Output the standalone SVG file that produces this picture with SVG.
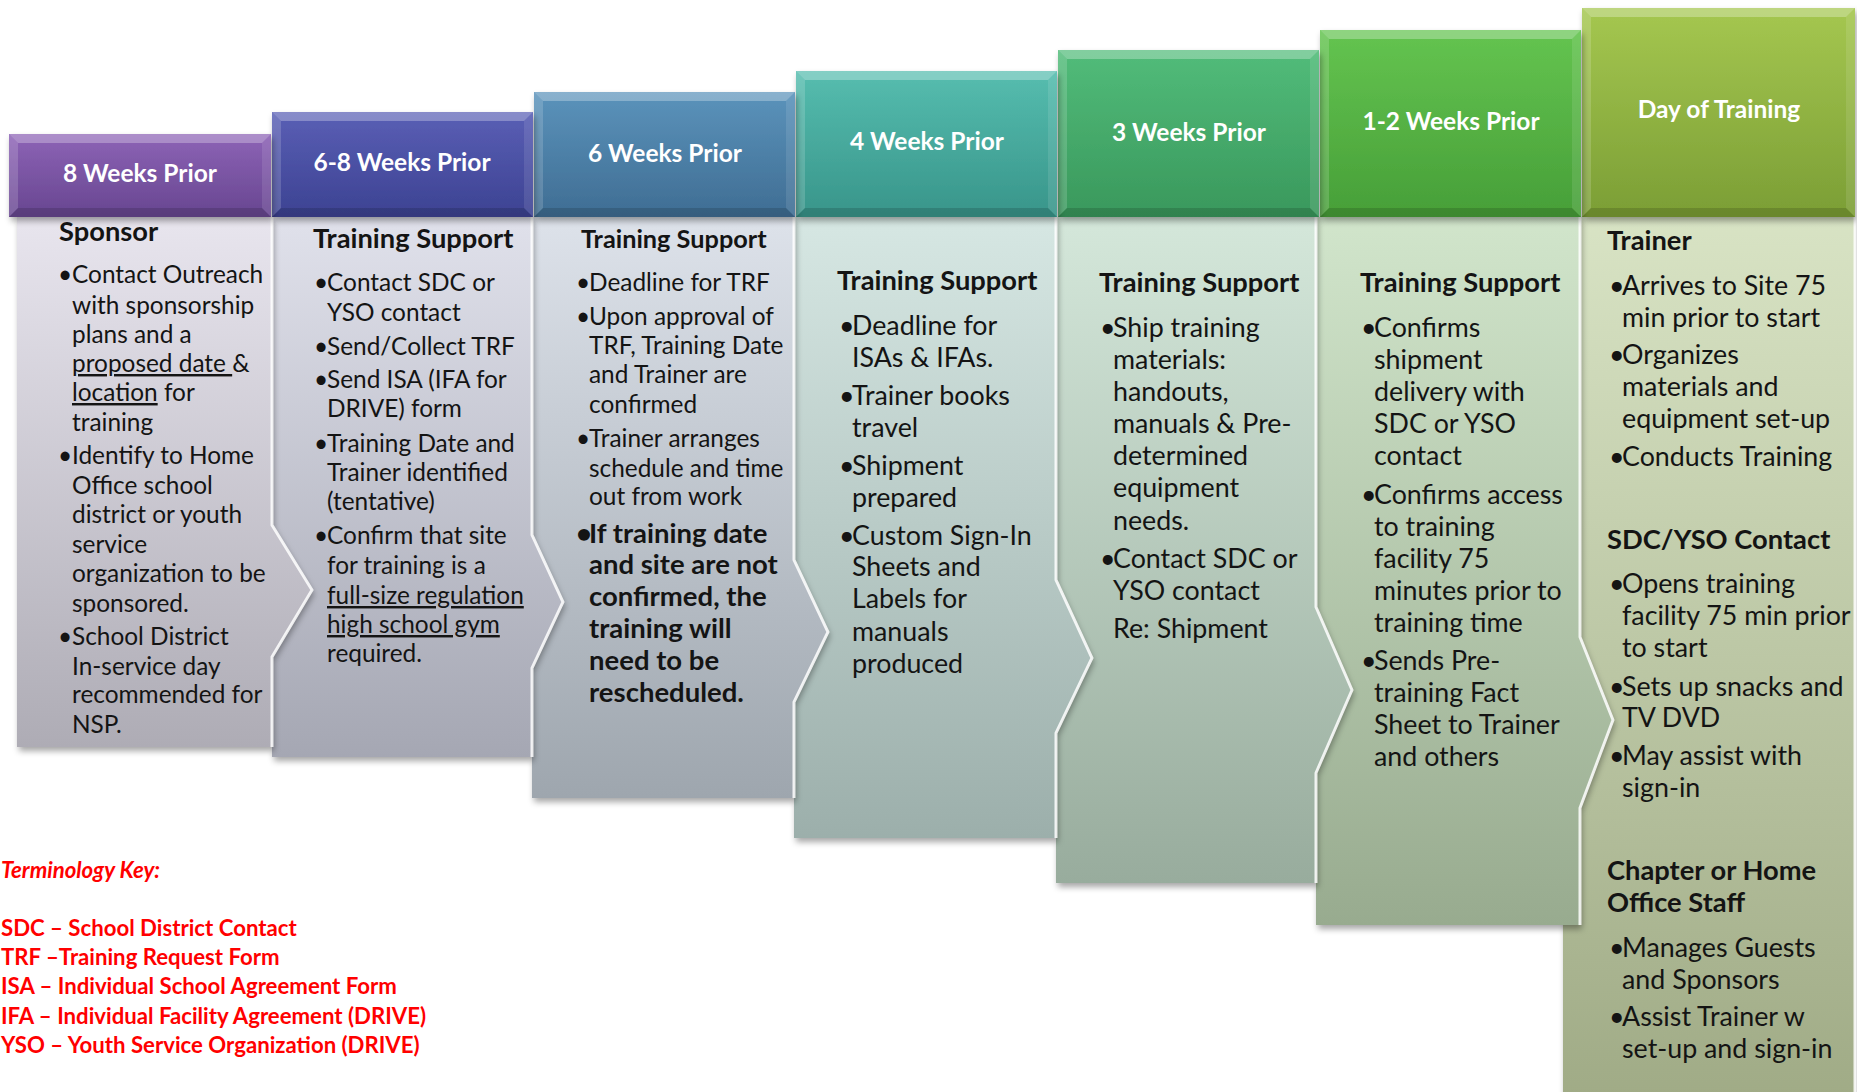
<svg xmlns="http://www.w3.org/2000/svg" width="1857" height="1092" viewBox="0 0 1857 1092">
<defs>
<style>
text{font-family:Lato,"Liberation Sans","DejaVu Sans",sans-serif;fill:#141414}
.hl{font-weight:700;font-size:24.5px;fill:#fff;text-anchor:middle}
.s{font-size:24.4px}
.m{font-size:26.8px}
.hd{font-weight:700;font-size:27.3px}
.hd3{font-weight:700;font-size:25.3px}
.bb{font-weight:700;font-size:27.5px}
.u{text-decoration:underline}
.key{font-weight:700;font-size:22.2px;fill:#ff0000}
.edge{fill:none;stroke:#ffffff;stroke-width:3;opacity:.85}
.bt{fill:#ffffff;opacity:.28}
.bl{fill:#ffffff;opacity:.16}
.br{fill:#ffffff;opacity:.10}
.bm{fill:#000000;opacity:.14}
</style>
<filter id="sh" x="-10%" y="-10%" width="125%" height="125%">
<feDropShadow dx="2" dy="4" stdDeviation="3" flood-color="#000" flood-opacity="0.35"/>
</filter>
<linearGradient id="g1" x1="0" y1="0" x2="0" y2="1"><stop offset="0" stop-color="#e8e5ee"/><stop offset="1" stop-color="#aeacb5"/></linearGradient>
<linearGradient id="g2" x1="0" y1="0" x2="0" y2="1"><stop offset="0" stop-color="#e0e1eb"/><stop offset="1" stop-color="#a5a7b3"/></linearGradient>
<linearGradient id="g3" x1="0" y1="0" x2="0" y2="1"><stop offset="0" stop-color="#dde2ea"/><stop offset="1" stop-color="#9ea6ae"/></linearGradient>
<linearGradient id="g4" x1="0" y1="0" x2="0" y2="1"><stop offset="0" stop-color="#d6e7e3"/><stop offset="1" stop-color="#9cafab"/></linearGradient>
<linearGradient id="g5" x1="0" y1="0" x2="0" y2="1"><stop offset="0" stop-color="#d4e7da"/><stop offset="1" stop-color="#98ac9d"/></linearGradient>
<linearGradient id="g6" x1="0" y1="0" x2="0" y2="1"><stop offset="0" stop-color="#d1e5cb"/><stop offset="1" stop-color="#98ab8f"/></linearGradient>
<linearGradient id="g7" x1="0" y1="0" x2="0" y2="1"><stop offset="0" stop-color="#d8e3c4"/><stop offset="1" stop-color="#a0ab86"/></linearGradient>
<linearGradient id="h1" x1="0" y1="0" x2="0" y2="1"><stop offset="0" stop-color="#8d63b6"/><stop offset="1" stop-color="#674690"/></linearGradient>
<linearGradient id="h2" x1="0" y1="0" x2="0" y2="1"><stop offset="0" stop-color="#5a5fb5"/><stop offset="1" stop-color="#3c4292"/></linearGradient>
<linearGradient id="h3" x1="0" y1="0" x2="0" y2="1"><stop offset="0" stop-color="#5b93bb"/><stop offset="1" stop-color="#3f6d93"/></linearGradient>
<linearGradient id="h4" x1="0" y1="0" x2="0" y2="1"><stop offset="0" stop-color="#56bdaf"/><stop offset="1" stop-color="#38958a"/></linearGradient>
<linearGradient id="h5" x1="0" y1="0" x2="0" y2="1"><stop offset="0" stop-color="#52bc7a"/><stop offset="1" stop-color="#39985c"/></linearGradient>
<linearGradient id="h6" x1="0" y1="0" x2="0" y2="1"><stop offset="0" stop-color="#64c450"/><stop offset="1" stop-color="#479f38"/></linearGradient>
<linearGradient id="h7" x1="0" y1="0" x2="0" y2="1"><stop offset="0" stop-color="#a5c750"/><stop offset="1" stop-color="#7b9e35"/></linearGradient>
</defs>
<rect x="0" y="0" width="1857" height="1092" fill="#ffffff"/>

<g id="bodies">
<g id="body-7">
<polygon points="1563,217 1855,217 1855,1100 1563,1100" fill="url(#g7)" filter="url(#sh)"/>
<polyline class="edge" points="1855,217 1855,1100"/>
</g>
<g id="body-6">
<polygon points="1316,217 1580,217 1580,637 1613,720 1580,808 1580,925 1316,925" fill="url(#g6)" filter="url(#sh)"/>
<polyline class="edge" points="1580,217 1580,637 1613,720 1580,808 1580,925"/>
</g>
<g id="body-5">
<polygon points="1056,217 1316,217 1316,607 1352,690 1316,773 1316,883 1056,883" fill="url(#g5)" filter="url(#sh)"/>
<polyline class="edge" points="1316,217 1316,607 1352,690 1316,773 1316,883"/>
</g>
<g id="body-4">
<polygon points="794,217 1056,217 1056,580 1092,658 1056,733 1056,838 794,838" fill="url(#g4)" filter="url(#sh)"/>
<polyline class="edge" points="1056,217 1056,580 1092,658 1056,733 1056,838"/>
</g>
<g id="body-3">
<polygon points="532,217 794,217 794,560 828,632 794,702 794,798 532,798" fill="url(#g3)" filter="url(#sh)"/>
<polyline class="edge" points="794,217 794,560 828,632 794,702 794,798"/>
</g>
<g id="body-2">
<polygon points="272,217 532,217 532,535 563,602 532,668 532,757 272,757" fill="url(#g2)" filter="url(#sh)"/>
<polyline class="edge" points="532,217 532,535 563,602 532,668 532,757"/>
</g>
<g id="body-1">
<polygon points="17,217 272,217 272,525 312,590 272,657 272,747 17,747" fill="url(#g1)" filter="url(#sh)"/>
<polyline class="edge" points="272,217 272,525 312,590 272,657 272,747"/>
</g>
</g>

<g id="headers">
<g id="header-7">
<rect x="1582" y="8" width="273" height="209" fill="url(#h7)" filter="url(#sh)"/>
<polygon class="bt" points="1582,8 1855,8 1846,17 1591,17"/>
<polygon class="bl" points="1582,8 1591,17 1591,208 1582,217"/>
<polygon class="br" points="1855,8 1846,17 1846,208 1855,217"/>
<polygon class="bm" points="1582,217 1855,217 1846,208 1591,208"/>
<text class="hl" x="1719" y="118">Day of Training</text>
</g>
<g id="header-6">
<rect x="1320" y="30" width="261" height="187" fill="url(#h6)" filter="url(#sh)"/>
<polygon class="bt" points="1320,30 1581,30 1572,39 1329,39"/>
<polygon class="bl" points="1320,30 1329,39 1329,208 1320,217"/>
<polygon class="br" points="1581,30 1572,39 1572,208 1581,217"/>
<polygon class="bm" points="1320,217 1581,217 1572,208 1329,208"/>
<text class="hl" x="1451" y="130">1-2 Weeks Prior</text>
</g>
<g id="header-5">
<rect x="1058" y="50" width="261" height="167" fill="url(#h5)" filter="url(#sh)"/>
<polygon class="bt" points="1058,50 1319,50 1310,59 1067,59"/>
<polygon class="bl" points="1058,50 1067,59 1067,208 1058,217"/>
<polygon class="br" points="1319,50 1310,59 1310,208 1319,217"/>
<polygon class="bm" points="1058,217 1319,217 1310,208 1067,208"/>
<text class="hl" x="1189" y="141">3 Weeks Prior</text>
</g>
<g id="header-4">
<rect x="796" y="71" width="261" height="146" fill="url(#h4)" filter="url(#sh)"/>
<polygon class="bt" points="796,71 1057,71 1048,80 805,80"/>
<polygon class="bl" points="796,71 805,80 805,208 796,217"/>
<polygon class="br" points="1057,71 1048,80 1048,208 1057,217"/>
<polygon class="bm" points="796,217 1057,217 1048,208 805,208"/>
<text class="hl" x="927" y="150">4 Weeks Prior</text>
</g>
<g id="header-3">
<rect x="534" y="92" width="261" height="125" fill="url(#h3)" filter="url(#sh)"/>
<polygon class="bt" points="534,92 795,92 786,101 543,101"/>
<polygon class="bl" points="534,92 543,101 543,208 534,217"/>
<polygon class="br" points="795,92 786,101 786,208 795,217"/>
<polygon class="bm" points="534,217 795,217 786,208 543,208"/>
<text class="hl" x="665" y="162">6 Weeks Prior</text>
</g>
<g id="header-2">
<rect x="272" y="112" width="261" height="105" fill="url(#h2)" filter="url(#sh)"/>
<polygon class="bt" points="272,112 533,112 524,121 281,121"/>
<polygon class="bl" points="272,112 281,121 281,208 272,217"/>
<polygon class="br" points="533,112 524,121 524,208 533,217"/>
<polygon class="bm" points="272,217 533,217 524,208 281,208"/>
<text class="hl" x="402" y="171">6-8 Weeks Prior</text>
</g>
<g id="header-1">
<rect x="9" y="134" width="262" height="83" fill="url(#h1)" filter="url(#sh)"/>
<polygon class="bt" points="9,134 271,134 262,143 18,143"/>
<polygon class="bl" points="9,134 18,143 18,208 9,217"/>
<polygon class="br" points="271,134 262,143 262,208 271,217"/>
<polygon class="bm" points="9,217 271,217 262,208 18,208"/>
<text class="hl" x="140" y="182">8 Weeks Prior</text>
</g>
</g>

<g id="connectors"></g>

<g id="text-1">
<text class="hd" x="59" y="241">Sponsor</text>
<text class="s" x="58" y="283">•</text>
<text class="s" x="72" y="283">Contact Outreach</text>
<text class="s" x="72" y="314">with sponsorship</text>
<text class="s" x="72" y="343">plans and a</text>
<text class="s" x="72" y="372"><tspan class="u">proposed date </tspan>&amp;</text>
<text class="s" x="72" y="401"><tspan class="u">location</tspan> for</text>
<text class="s" x="72" y="431">training</text>
<text class="s" x="58" y="464">•</text>
<text class="s" x="72" y="464">Identify to Home</text>
<text class="s" x="72" y="494">Office school</text>
<text class="s" x="72" y="523">district or youth</text>
<text class="s" x="72" y="553">service</text>
<text class="s" x="72" y="582">organization to be</text>
<text class="s" x="72" y="612">sponsored.</text>
<text class="s" x="58" y="645">•</text>
<text class="s" x="72" y="645">School District</text>
<text class="s" x="72" y="675">In-service day</text>
<text class="s" x="72" y="703">recommended for</text>
<text class="s" x="72" y="733">NSP.</text>
</g>

<g id="text-2">
<text class="hd" x="313" y="248">Training Support</text>
<text class="s" x="314" y="291">•</text>
<text class="s" x="327" y="291">Contact SDC or</text>
<text class="s" x="327" y="321">YSO contact</text>
<text class="s" x="314" y="355">•</text>
<text class="s" x="327" y="355">Send/Collect TRF</text>
<text class="s" x="314" y="388">•</text>
<text class="s" x="327" y="388">Send ISA (IFA for</text>
<text class="s" x="327" y="417">DRIVE) form</text>
<text class="s" x="314" y="452">•</text>
<text class="s" x="327" y="452">Training Date and</text>
<text class="s" x="327" y="481">Trainer identified</text>
<text class="s" x="327" y="510">(tentative)</text>
<text class="s" x="314" y="544">•</text>
<text class="s" x="327" y="544">Confirm that site</text>
<text class="s" x="327" y="574">for training is a</text>
<text class="s u" x="327" y="604">full-size regulation</text>
<text class="s u" x="327" y="633">high school gym</text>
<text class="s" x="327" y="662">required.</text>
</g>

<g id="text-3">
<text class="hd3" x="581" y="248">Training Support</text>
<text class="s" x="576" y="291">•</text>
<text class="s" x="589" y="291">Deadline for TRF</text>
<text class="s" x="576" y="325">•</text>
<text class="s" x="589" y="325">Upon approval of</text>
<text class="s" x="589" y="354">TRF, Training Date</text>
<text class="s" x="589" y="383">and Trainer are</text>
<text class="s" x="589" y="413">confirmed</text>
<text class="s" x="576" y="447">•</text>
<text class="s" x="589" y="447">Trainer arranges</text>
<text class="s" x="589" y="477">schedule and time</text>
<text class="s" x="589" y="505">out from work</text>
<text class="bb" x="576" y="543">•</text>
<text class="bb" x="589" y="543">If training date</text>
<text class="bb" x="589" y="574">and site are not</text>
<text class="bb" x="589" y="606">confirmed, the</text>
<text class="bb" x="589" y="638">training will</text>
<text class="bb" x="589" y="670">need to be</text>
<text class="bb" x="589" y="702">rescheduled.</text>
</g>

<g id="text-4">
<text class="hd" x="837" y="290">Training Support</text>
<text class="m" x="839" y="335">•</text>
<text class="m" x="852" y="335">Deadline for</text>
<text class="m" x="852" y="367">ISAs &amp; IFAs.</text>
<text class="m" x="839" y="405">•</text>
<text class="m" x="852" y="405">Trainer books</text>
<text class="m" x="852" y="437">travel</text>
<text class="m" x="839" y="475">•</text>
<text class="m" x="852" y="475">Shipment</text>
<text class="m" x="852" y="507">prepared</text>
<text class="m" x="839" y="545">•</text>
<text class="m" x="852" y="545">Custom Sign-In</text>
<text class="m" x="852" y="576">Sheets and</text>
<text class="m" x="852" y="608">Labels for</text>
<text class="m" x="852" y="641">manuals</text>
<text class="m" x="852" y="673">produced</text>
</g>

<g id="text-5">
<text class="hd" x="1099" y="292">Training Support</text>
<text class="m" x="1100" y="337">•</text>
<text class="m" x="1113" y="337">Ship training</text>
<text class="m" x="1113" y="369">materials:</text>
<text class="m" x="1113" y="401">handouts,</text>
<text class="m" x="1113" y="433">manuals &amp; Pre-</text>
<text class="m" x="1113" y="465">determined</text>
<text class="m" x="1113" y="497">equipment</text>
<text class="m" x="1113" y="530">needs.</text>
<text class="m" x="1100" y="568">•</text>
<text class="m" x="1113" y="568">Contact SDC or</text>
<text class="m" x="1113" y="600">YSO contact</text>
<text class="m" x="1113" y="638">Re: Shipment</text>
</g>

<g id="text-6">
<text class="hd" x="1360" y="292">Training Support</text>
<text class="m" x="1361" y="337">•</text>
<text class="m" x="1374" y="337">Confirms</text>
<text class="m" x="1374" y="369">shipment</text>
<text class="m" x="1374" y="401">delivery with</text>
<text class="m" x="1374" y="433">SDC or YSO</text>
<text class="m" x="1374" y="465">contact</text>
<text class="m" x="1361" y="504">•</text>
<text class="m" x="1374" y="504">Confirms access</text>
<text class="m" x="1374" y="536">to training</text>
<text class="m" x="1374" y="568">facility 75</text>
<text class="m" x="1374" y="600">minutes prior to</text>
<text class="m" x="1374" y="632">training time</text>
<text class="m" x="1361" y="670">•</text>
<text class="m" x="1374" y="670">Sends Pre-</text>
<text class="m" x="1374" y="702">training Fact</text>
<text class="m" x="1374" y="734">Sheet to Trainer</text>
<text class="m" x="1374" y="766">and others</text>
</g>

<g id="text-7">
<text class="hd" x="1607" y="250">Trainer</text>
<text class="m" x="1609" y="295">•</text>
<text class="m" x="1622" y="295">Arrives to Site 75</text>
<text class="m" x="1622" y="327">min prior to start</text>
<text class="m" x="1609" y="364">•</text>
<text class="m" x="1622" y="364">Organizes</text>
<text class="m" x="1622" y="396">materials and</text>
<text class="m" x="1622" y="428">equipment set-up</text>
<text class="m" x="1609" y="466">•</text>
<text class="m" x="1622" y="466">Conducts Training</text>
<text class="hd" x="1607" y="549">SDC/YSO Contact</text>
<text class="m" x="1609" y="593">•</text>
<text class="m" x="1622" y="593">Opens training</text>
<text class="m" x="1622" y="625">facility 75 min prior</text>
<text class="m" x="1622" y="657">to start</text>
<text class="m" x="1609" y="696">•</text>
<text class="m" x="1622" y="696">Sets up snacks and</text>
<text class="m" x="1622" y="727">TV DVD</text>
<text class="m" x="1609" y="765">•</text>
<text class="m" x="1622" y="765">May assist with</text>
<text class="m" x="1622" y="797">sign-in</text>
<text class="hd" x="1607" y="880">Chapter or Home</text>
<text class="hd" x="1607" y="912">Office Staff</text>
<text class="m" x="1609" y="957">•</text>
<text class="m" x="1622" y="957">Manages Guests</text>
<text class="m" x="1622" y="989">and Sponsors</text>
<text class="m" x="1609" y="1026">•</text>
<text class="m" x="1622" y="1026">Assist Trainer w</text>
<text class="m" x="1622" y="1058">set-up and sign-in</text>
</g>

<g id="key">
<text class="key" x="1" y="878" font-style="italic" font-size="23.5px">Terminology Key:</text>
<text class="key" x="1" y="936">SDC – School District Contact</text>
<text class="key" x="1" y="965">TRF –Training Request Form</text>
<text class="key" x="1" y="994">ISA – Individual School Agreement Form</text>
<text class="key" x="1" y="1024">IFA – Individual Facility Agreement (DRIVE)</text>
<text class="key" x="1" y="1053">YSO – Youth Service Organization (DRIVE)</text>
</g>
</svg>
